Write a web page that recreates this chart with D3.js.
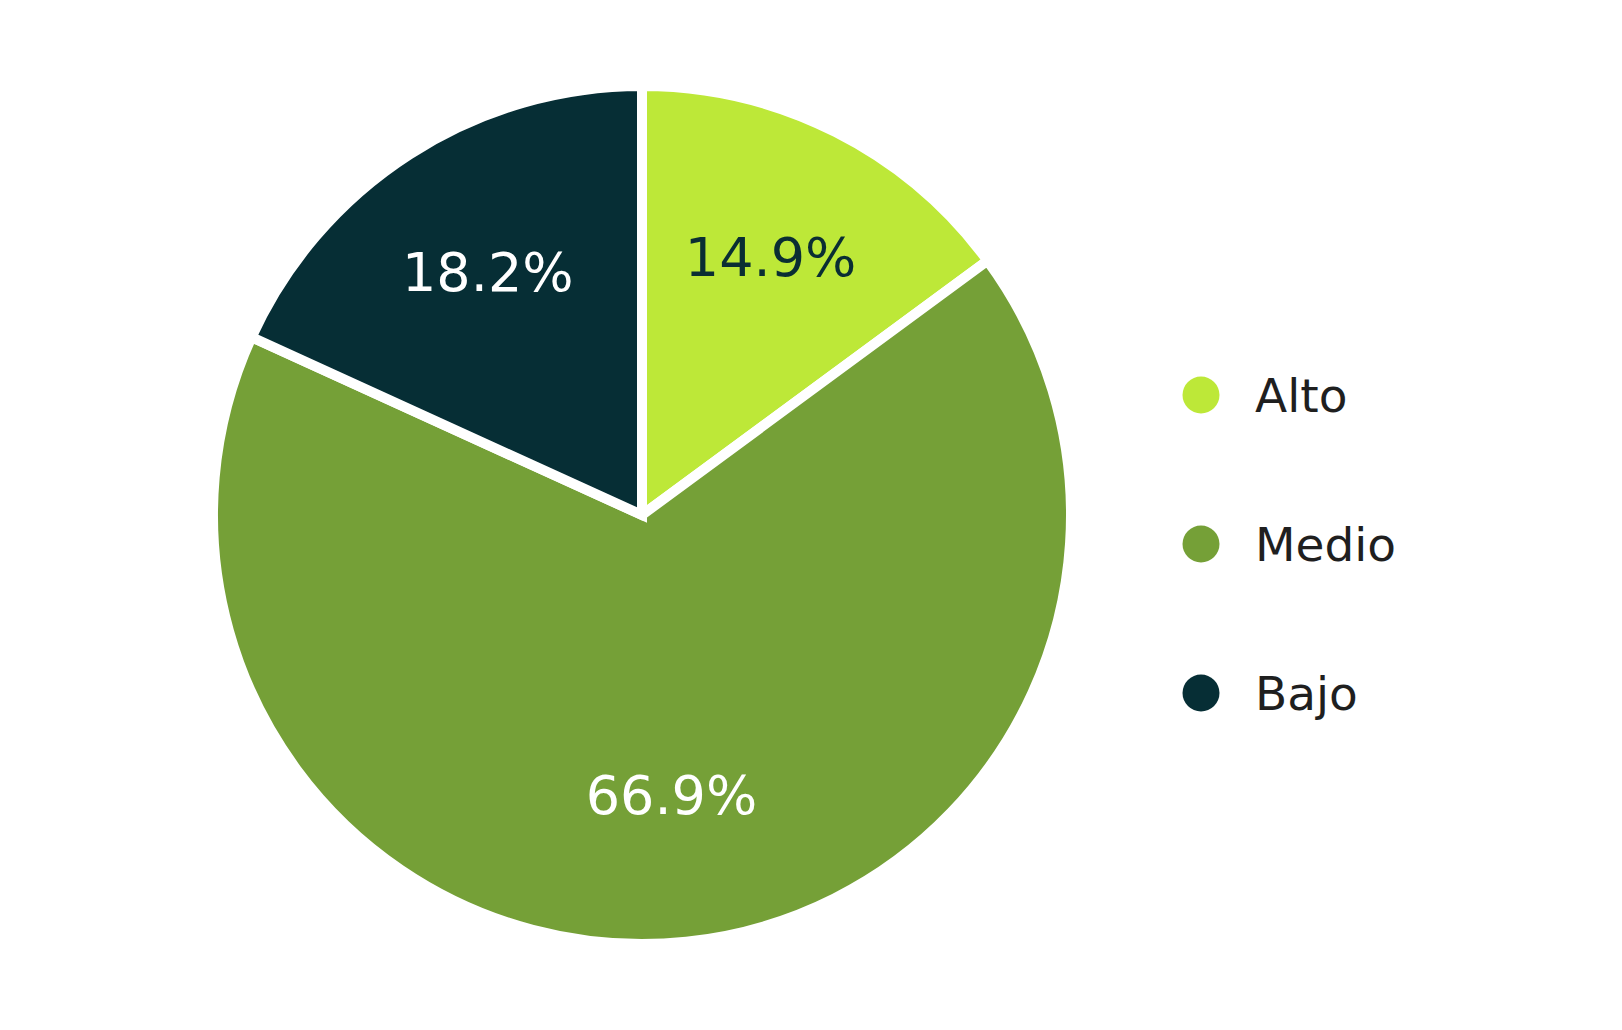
<!DOCTYPE html>
<html>
<head>
<meta charset="utf-8">
<script src="https://cdn.jsdelivr.net/npm/d3@7"></script>
<style>
  html, body { margin: 0; padding: 0; background: #ffffff; }
  svg { display: block; }
</style>
</head>
<body>
<svg id="chart" width="1622" height="1030"></svg>
<script>
const categories = ["Alto", "Medio", "Bajo"];
const values = [14.9, 66.9, 18.2];
const colors = ["#bde838", "#75a037", "#062e35"];
const labelColors = ["#0a2e33", "#ffffff", "#ffffff"];

const svg = d3.select("#chart");
const cx = 642, cy = 515;
const outerR = 429;
const labelR = 285;

const data = categories.map((c, i) => ({ cat: c, value: values[i], color: colors[i], lc: labelColors[i] }));

const pie = d3.pie().sort(null).value(d => d.value);
const arcs = pie(data);
const arc = d3.arc().innerRadius(0).outerRadius(outerR);
const labelArc = d3.arc().innerRadius(labelR).outerRadius(labelR);

const g = svg.append("g").attr("transform", `translate(${cx},${cy})`);

g.selectAll("path.slice")
  .data(arcs)
  .join("path")
  .attr("class", "slice")
  .attr("d", arc)
  .attr("fill", d => d.data.color)
  .attr("stroke", "#ffffff")
  .attr("stroke-width", 10)
  .attr("stroke-linejoin", "miter");

g.selectAll("text.pct")
  .data(arcs)
  .join("text")
  .attr("class", "pct")
  .attr("transform", d => `translate(${labelArc.centroid(d)})`)
  .attr("y", -3)
  .attr("text-anchor", "middle")
  .attr("dominant-baseline", "central")
  .attr("font-family", "DejaVu Sans, sans-serif")
  .attr("font-size", 54)
  .attr("fill", d => d.data.lc)
  .text(d => d.data.value.toFixed(1) + "%");

const legendY = d3.scalePoint().domain(categories).range([395, 693]);
const legend = svg.append("g");
const items = legend.selectAll("g.item")
  .data(data)
  .join("g")
  .attr("class", "item")
  .attr("transform", d => `translate(1201,${legendY(d.cat)})`);

items.append("circle")
  .attr("r", 18.5)
  .attr("fill", d => d.color);

items.append("text")
  .attr("x", 54)
  .attr("y", 0)
  .attr("dominant-baseline", "central")
  .attr("font-family", "DejaVu Sans, sans-serif")
  .attr("font-size", 47)
  .attr("fill", "#1f1f1f")
  .text(d => d.cat);
</script>
</body>
</html>
